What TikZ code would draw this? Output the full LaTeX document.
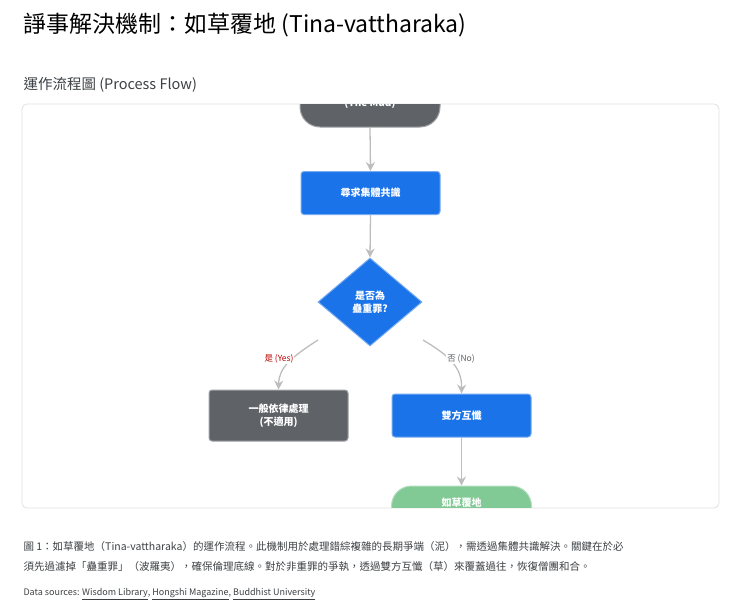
\documentclass[tikz,border=0pt]{standalone}
\usepackage{fontspec}
\setmainfont{Noto Sans CJK TC}
\usetikzlibrary{shapes.geometric,arrows.meta}
\definecolor{gblue}{HTML}{1A73E8}
\definecolor{gdark}{HTML}{5F6368}
\definecolor{ggreen}{HTML}{81C995}
\definecolor{garrow}{HTML}{BDBDBD}
\definecolor{gtext}{HTML}{3C4043}
\tikzset{
 box/.style={draw=#1!60!white,line width=1pt,fill=#1,text=white,rounded corners=3pt,font=\bfseries\fontsize{10}{13}\selectfont,align=center,minimum width=139pt},
 pill/.style={draw=#1!60!white,line width=1pt,fill=#1,text=white,rounded corners=20pt,font=\bfseries\fontsize{10}{13}\selectfont,align=center,minimum width=140pt},
 conn/.style={draw=garrow,line width=1.3pt,-{Stealth[length=9pt,width=9pt]}},
 lbl/.style={font=\fontsize{8.5}{10}\selectfont}
}
\begin{document}
\begin{tikzpicture}[x=1pt,y=-1pt]
\useasboundingbox (0,0) rectangle (740,608);
\node[anchor=west,font=\fontsize{23}{28}\selectfont,text=black] (title) at (20,25) {諍事解決機制：如草覆地 (Tina-vattharaka)};
\node[anchor=west,font=\fontsize{14.5}{18}\selectfont,text=gtext] (sub) at (20,85) {運作流程圖 (Process Flow)};
\draw[draw=black!12,rounded corners=5pt,line width=0.8pt] (22,104) rectangle (719,508);
\begin{scope}
\clip (22,104.5) rectangle (719,507.5);
\node[pill=gdark,minimum height=60pt] (mud) at (370,97) {\\[8pt](The Mud)};
\node[box=gblue,minimum height=43pt] (seek) at (370.5,193) {尋求集體共識};
\node[diamond,draw=gblue!60!white,line width=1pt,fill=gblue,text=white,font=\bfseries\fontsize{10}{13}\selectfont,align=center,minimum width=104pt,minimum height=88pt,inner sep=0pt] (dec) at (370,302) {是否為\\蠱重罪?};
\node[box=gdark,minimum height=51pt] (gen) at (278.5,415.5) {一般依律處理\\(不適用)};
\node[box=gblue,minimum height=43pt] (conf) at (461.5,415.5) {雙方互懺};
\node[pill=ggreen,minimum height=50pt] (grass) at (461.5,511) {如草覆地\\ \strut};
\draw[conn] (mud.south) -- (seek.north);
\draw[conn] (seek.south) -- (dec.north);
\coordinate (ya) at (318,340);
\coordinate (na) at (423,340);
\draw[conn] (ya) .. controls (290,358) and (279,368) .. (gen.north);
\draw[conn] (na) .. controls (450,356) and (462,368) .. (conf.north);
\draw[conn] (conf.south) -- (grass.north);
\node[lbl,text=red!75!black,fill=white,inner sep=1pt] (yes) at (279,359) {是 (Yes)};
\node[lbl,text=gdark,fill=white,inner sep=1pt] (no) at (461,359) {否 (No)};
\end{scope}
\node[anchor=west,font=\fontsize{10.5}{19.5}\selectfont,text=gtext,align=left] (cap) at (20,556.5) {圖 1：如草覆地（Tina-vattharaka）的運作流程。此機制用於處理錯綜複雜的長期爭端（泥），需透過集體共識解決。關鍵在於必\\須先過濾掉「蠱重罪」（波羅夷），確保倫理底線。對於非重罪的爭執，透過雙方互懺（草）來覆蓋過往，恢復僧團和合。};
\node[anchor=west,font=\fontsize{9}{11}\selectfont,text=gtext] (src) at (20,594) {Data sources: \underline{Wisdom Library}, \underline{Hongshi Magazine}, \underline{Buddhist University}};
\end{tikzpicture}
\end{document}
